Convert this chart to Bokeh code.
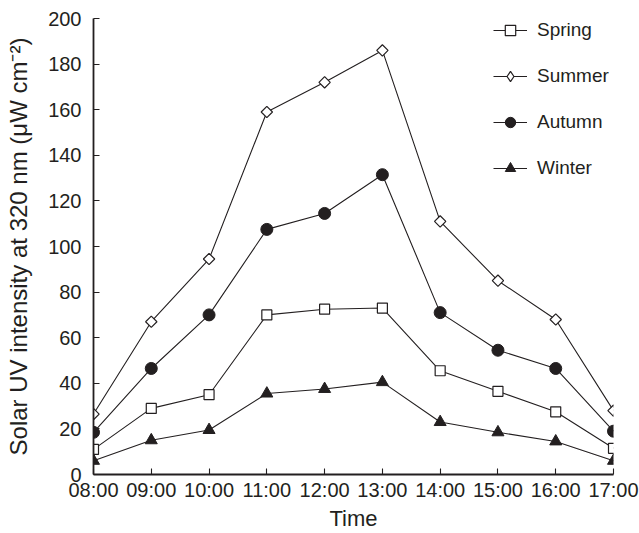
import numpy as np
from bokeh.plotting import figure
from bokeh.models import Range1d, FixedTicker, Legend, LegendItem
from bokeh.embed import file_html
from bokeh.resources import INLINE

hours = [8, 9, 10, 11, 12, 13, 14, 15, 16, 17]
hour_labels = ["08:00", "09:00", "10:00", "11:00", "12:00",
               "13:00", "14:00", "15:00", "16:00", "17:00"]
spring = [11, 29, 35, 70, 72.5, 73, 45.5, 36.5, 27.5, 11.5]
summer = [26.5, 67, 94.5, 159, 172, 186, 111, 85, 68, 28]
autumn = [18.5, 46.5, 70, 107.5, 114.5, 131.5, 71, 54.5, 46.5, 19]
winter = [6, 15, 19.5, 35.5, 37.5, 40.5, 23, 18.5, 14.5, 6]
y_ticks = [0, 20, 40, 60, 80, 100, 120, 140, 160, 180, 200]

INK = "#231f20"
FONT = "Liberation Sans"

p = figure(width=639, height=533, output_backend="svg", toolbar_location=None,
           x_range=Range1d(8, 17), y_range=Range1d(0, 200),
           min_border_left=93, min_border_right=26, min_border_top=18,
           min_border_bottom=59)
p.outline_line_color = None
p.xgrid.visible = False
p.ygrid.visible = False

items = []

# Spring
lr = p.line(hours, spring, line_color=INK, line_width=1.1)
sr = p.scatter(hours, spring, marker="square", size=10, fill_color="white",
               line_color=INK, line_width=1.2)
items.append(LegendItem(label="Spring", renderers=[lr, sr]))

# Summer (diamond key for the legend, rotated squares on the plot)
lr = p.line(hours, summer, line_color=INK, line_width=1.1)
kr = p.scatter(hours, summer, marker="diamond", size=9, fill_color="white",
               line_color=INK, line_width=1.2)
p.scatter(hours, summer, marker="square", size=8, angle=np.pi / 4,
          fill_color="white", line_color=INK, line_width=1.2)
items.append(LegendItem(label="Summer", renderers=[lr, kr]))

# Autumn
lr = p.line(hours, autumn, line_color=INK, line_width=1.1)
sr = p.scatter(hours, autumn, marker="circle", size=12, fill_color=INK,
               line_color=INK, line_width=1.0)
items.append(LegendItem(label="Autumn", renderers=[lr, sr]))

# Winter
lr = p.line(hours, winter, line_color=INK, line_width=1.1)
sr = p.scatter(hours, winter, marker="triangle", size=12, fill_color=INK,
               line_color=INK, line_width=1.0)
items.append(LegendItem(label="Winter", renderers=[lr, sr]))

lg = Legend(items=items, location=(400, 293))
lg.border_line_color = None
lg.background_fill_alpha = 0
lg.padding = 0
lg.margin = 0
lg.glyph_width = 34
lg.glyph_height = 26
lg.label_height = 26
lg.spacing = 20
lg.label_standoff = 10
lg.label_text_font = FONT
lg.label_text_font_size = "19px"
lg.label_text_color = INK
p.add_layout(lg)

for ax in (p.xaxis[0], p.yaxis[0]):
    ax.axis_line_color = INK
    ax.axis_line_width = 1.8
    ax.major_tick_line_color = INK
    ax.major_tick_line_width = 1.1
    ax.major_tick_in = 6
    ax.major_tick_out = 0
    ax.minor_tick_line_color = None
    ax.major_label_text_font = FONT
    ax.major_label_text_font_size = "20px"
    ax.major_label_text_color = INK
    ax.axis_label_text_font = FONT
    ax.axis_label_text_font_style = "normal"
    ax.axis_label_text_color = INK

p.xaxis.ticker = FixedTicker(ticks=hours)
p.xaxis.major_label_overrides = {h: l for h, l in zip(hours, hour_labels)}
p.xaxis.major_label_standoff = 4
p.xaxis.axis_label = "Time"
p.xaxis.axis_label_text_font_size = "22px"
p.xaxis.axis_label_standoff = 2

p.yaxis.ticker = FixedTicker(ticks=y_ticks)
p.yaxis.axis_label = "Solar UV intensity at 320 nm (\u03bcW cm\u207b\u00b2)"
p.yaxis.axis_label_text_font_size = "24px"
p.yaxis.major_label_standoff = 12
p.yaxis.axis_label_standoff = 13

open("out.html", "w").write(file_html(p, INLINE))
